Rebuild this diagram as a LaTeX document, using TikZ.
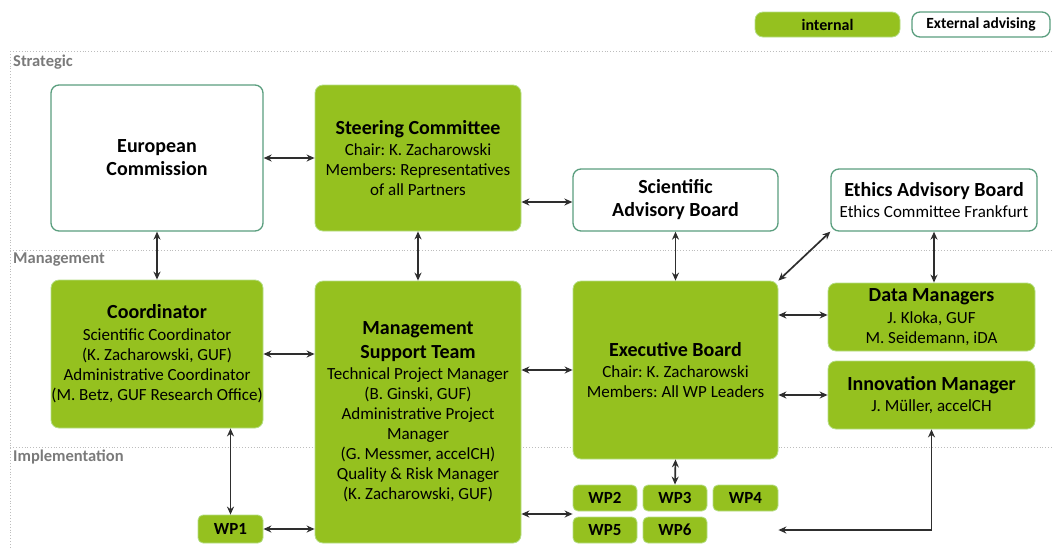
\documentclass[tikz,border=0pt]{standalone}
\usepackage{fontspec}
\setmainfont{Carlito}
\usetikzlibrary{arrows.meta,calc}
\definecolor{boxgreen}{HTML}{95C11F}
\definecolor{edgegreen}{HTML}{B5DE86}
\definecolor{frameteal}{HTML}{5A9E7E}
\definecolor{linegray}{HTML}{BDBDBD}
\definecolor{labelgray}{HTML}{7A7A7A}
\definecolor{arrowgray}{HTML}{2E2E2E}
\newcommand{\ttl}[1]{{\fontsize{20}{23}\selectfont\bfseries #1}}
\frenchspacing
\begin{document}
\begin{tikzpicture}[x=1pt,y=-1pt,
  every node/.style={font=\fontsize{17}{20}\selectfont, text=black, align=center, inner sep=0pt},
  intbox/.style={draw=edgegreen, fill=boxgreen, line width=0.8pt, rounded corners=8pt},
  extbox/.style={draw=frameteal, fill=white, line width=1.3pt, rounded corners=8pt},
  wpbox/.style={intbox, rounded corners=5pt, minimum width=64pt, minimum height=26pt, font=\fontsize{17}{17}\selectfont\bfseries},
  lane/.style={draw=linegray, dotted, line width=0.9pt},
  lanelabel/.style={anchor=west, text=labelgray, font=\fontsize{16.5}{18}\selectfont\bfseries},
  link/.style={draw=arrowgray, line width=1.7pt, {Stealth[length=8pt,width=7pt]}-{Stealth[length=8pt,width=7pt]}}
]
\useasboundingbox (0,0) rectangle (1053,547);

% lane separators
\draw[lane] (10,51) -- (1053,51);
\draw[lane] (10,250) -- (1053,250);
\draw[lane] (10,447) -- (1053,447);
\draw[lane] (10,51) -- (10,547);
\node[lanelabel] (lstrat) at (13,62) {Strategic};
\node[lanelabel] (lmgmt) at (13,260) {Management};
\node[lanelabel] (limpl) at (13,457) {Implementation};

% legend
\node[intbox, minimum width=145pt, minimum height=25pt, font=\fontsize{16}{18}\selectfont\bfseries] (legint) at (827.5,24.5) {internal};
\node[extbox, minimum width=138pt, minimum height=25pt, font=\fontsize{15.5}{18}\selectfont\bfseries] (legext) at (981,24.5) {External advising};

% strategic level
\node[extbox, minimum width=212pt, minimum height=146pt] (ec) at (157,158) {\ttl{European}\\[3pt]\ttl{Commission}};
\node[intbox, minimum width=206pt, minimum height=146pt] (sc) at (418,158)
  {\ttl{Steering Committee}\\[1pt]Chair: K. Zacharowski\\Members: Representatives\\of all Partners};
\node[extbox, minimum width=205pt, minimum height=62pt] (sab) at (675.5,200) {\ttl{Scientific}\\[3pt]\ttl{Advisory Board}};
\node[extbox, minimum width=206pt, minimum height=62pt] (eab) at (934,200) {\ttl{Ethics Advisory Board}\\[1pt]Ethics Committee Frankfurt};

% management level
\node[intbox, minimum width=212pt, minimum height=148pt] (coord) at (157,354)
  {\ttl{Coordinator}\\[2pt]Scientific Coordinator\\(K. Zacharowski, GUF)\\Administrative Coordinator\\(M. Betz, GUF Research Office)};
\node[intbox, minimum width=206pt, minimum height=262pt] (mst) at (418,412)
  {\ttl{Management}\\[4pt]\ttl{Support Team}\\[1pt]Technical Project Manager\\(B. Ginski, GUF)\\Administrative Project\\Manager\\(G. Messmer, accelCH)\\Quality \& Risk Manager\\(K. Zacharowski, GUF)};
\node[intbox, minimum width=205pt, minimum height=178pt] (exec) at (675.5,370)
  {\ttl{Executive Board}\\[1pt]Chair: K. Zacharowski\\Members: All WP Leaders};
\node[intbox, minimum width=207pt, minimum height=68pt] (dm) at (931.5,317)
  {\ttl{Data Managers}\\[2pt]J. Kloka, GUF\\M. Seidemann, iDA};
\node[intbox, minimum width=207pt, minimum height=68pt] (im) at (931.5,395)
  {\ttl{Innovation Manager}\\[1pt]J. Müller, accelCH};

% work packages
\node[wpbox, minimum width=65pt, minimum height=28pt] (wp1) at (230.5,529) {WP1};
\node[wpbox] (wp2) at (605,498) {WP2};
\node[wpbox] (wp3) at (675,498) {WP3};
\node[wpbox, minimum width=65pt] (wp4) at (745.5,498) {WP4};
\node[wpbox] (wp5) at (605,530) {WP5};
\node[wpbox] (wp6) at (675,530) {WP6};
\coordinate (wpgap) at ($(wp2.south west)!0.5!(wp5.north west)$);

% connectors
\draw[link] (ec.east) -- (sc.west);
\draw[link] (ec.south) -- (coord.north);
\draw[link] (sc.south) -- (mst.north);
\draw[link] ([yshift=-2pt]sab.west -| sc.east) -- ([yshift=-2pt]sab.west);
\draw[link] (sab.south) -- (sab.south |- exec.north);
\draw[link] (exec.north east) -- (eab.south west);
\draw[link] (eab.south) -- (eab.south |- dm.north);
\draw[link] ([yshift=2pt]dm.west -| exec.east) -- ([yshift=2pt]dm.west);
\draw[link] (im.west -| exec.east) -- (im.west);
\draw[link] (coord.east) -- (coord.east -| mst.west);
\draw[link] (wp1.north |- coord.south) -- (wp1.north);
\draw[link] (wp1.east) -- (wp1.east -| mst.west);
\draw[link] (exec.west -| mst.east) -- (exec.west);
\draw[link] (wpgap -| mst.east) -- (wpgap);
\draw[link] (exec.south) -- (wp3.north);
\draw[link] (im.south) |- (wp5.east -| wp4.east);
\end{tikzpicture}
\end{document}
